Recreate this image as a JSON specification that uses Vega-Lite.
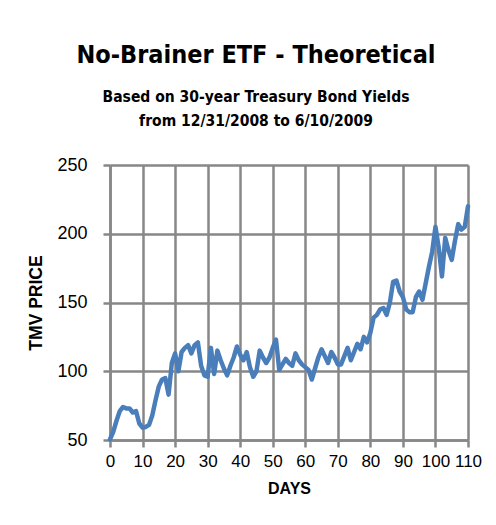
{
  "$schema": "https://vega.github.io/schema/vega-lite/v6.json",
  "width": 358,
  "height": 275,
  "autosize": {"type": "none"},
  "padding": {"left": 110, "top": 165, "right": 28, "bottom": 85},
  "background": "white",
  "title": {
    "text": "No-Brainer ETF - Theoretical",
    "subtitle": ["Based on 30-year Treasury Bond Yields", "from 12/31/2008 to 6/10/2009"],
    "anchor": "middle",
    "dx": -33,
    "offset": 27,
    "font": "DejaVu Sans Condensed, Liberation Sans, sans-serif",
    "fontSize": 25,
    "fontWeight": "bold",
    "color": "black",
    "subtitleFont": "DejaVu Sans Condensed, Liberation Sans, sans-serif",
    "subtitleFontSize": 15.5,
    "subtitleFontWeight": "bold",
    "subtitleColor": "black",
    "subtitlePadding": 22,
    "subtitleLineHeight": 24
  },
  "data": {
    "values": [
      {"day": 0, "price": 50.5}, {"day": 1, "price": 56}, {"day": 2, "price": 64}, {"day": 3, "price": 71},
      {"day": 4, "price": 74}, {"day": 5, "price": 73}, {"day": 6, "price": 73}, {"day": 7, "price": 70},
      {"day": 8, "price": 71}, {"day": 9, "price": 62}, {"day": 10, "price": 59}, {"day": 11, "price": 59.5},
      {"day": 12, "price": 61}, {"day": 13, "price": 68}, {"day": 14, "price": 79}, {"day": 15, "price": 89},
      {"day": 16, "price": 94}, {"day": 17, "price": 95}, {"day": 18, "price": 83}, {"day": 19, "price": 106},
      {"day": 20, "price": 113}, {"day": 21, "price": 100}, {"day": 22, "price": 114}, {"day": 23, "price": 117},
      {"day": 24, "price": 119}, {"day": 25, "price": 113}, {"day": 26, "price": 119}, {"day": 27, "price": 121},
      {"day": 28, "price": 104}, {"day": 29, "price": 97}, {"day": 30, "price": 96}, {"day": 31, "price": 117},
      {"day": 32, "price": 98}, {"day": 33, "price": 115}, {"day": 34, "price": 108}, {"day": 35, "price": 102},
      {"day": 36, "price": 97}, {"day": 37, "price": 104}, {"day": 38, "price": 110}, {"day": 39, "price": 118},
      {"day": 40, "price": 112}, {"day": 41, "price": 108}, {"day": 42, "price": 114}, {"day": 43, "price": 103},
      {"day": 44, "price": 96}, {"day": 45, "price": 100}, {"day": 46, "price": 115}, {"day": 47, "price": 110},
      {"day": 48, "price": 106}, {"day": 49, "price": 110}, {"day": 50, "price": 117}, {"day": 51, "price": 123},
      {"day": 52, "price": 101}, {"day": 53, "price": 105}, {"day": 54, "price": 109}, {"day": 55, "price": 106},
      {"day": 56, "price": 104}, {"day": 57, "price": 113}, {"day": 58, "price": 108}, {"day": 59, "price": 105},
      {"day": 60, "price": 103}, {"day": 61, "price": 101}, {"day": 62, "price": 94}, {"day": 63, "price": 102},
      {"day": 64, "price": 110}, {"day": 65, "price": 116}, {"day": 66, "price": 111}, {"day": 67, "price": 106},
      {"day": 68, "price": 114}, {"day": 69, "price": 110}, {"day": 70, "price": 105}, {"day": 71, "price": 105},
      {"day": 72, "price": 111}, {"day": 73, "price": 117}, {"day": 74, "price": 108}, {"day": 75, "price": 114},
      {"day": 76, "price": 120}, {"day": 77, "price": 116}, {"day": 78, "price": 125}, {"day": 79, "price": 121},
      {"day": 80, "price": 128}, {"day": 81, "price": 139}, {"day": 82, "price": 141}, {"day": 83, "price": 145},
      {"day": 84, "price": 146}, {"day": 85, "price": 141}, {"day": 86, "price": 150}, {"day": 87, "price": 165},
      {"day": 88, "price": 166}, {"day": 89, "price": 158}, {"day": 90, "price": 154}, {"day": 91, "price": 145},
      {"day": 92, "price": 143}, {"day": 93, "price": 143}, {"day": 94, "price": 154}, {"day": 95, "price": 158},
      {"day": 96, "price": 152}, {"day": 97, "price": 164}, {"day": 98, "price": 176}, {"day": 99, "price": 187},
      {"day": 100, "price": 205}, {"day": 101, "price": 190}, {"day": 102, "price": 169}, {"day": 103, "price": 197},
      {"day": 104, "price": 188}, {"day": 105, "price": 181}, {"day": 106, "price": 195}, {"day": 107, "price": 207},
      {"day": 108, "price": 203}, {"day": 109, "price": 205}, {"day": 110, "price": 220}
    ]
  },
  "mark": {"type": "line", "color": "#4a7ebb", "strokeWidth": 4.5, "strokeJoin": "round", "strokeCap": "round"},
  "encoding": {
    "x": {
      "field": "day",
      "type": "quantitative",
      "scale": {"domain": [0, 110], "nice": false, "zero": false},
      "axis": {
        "title": "DAYS",
        "values": [0, 10, 20, 30, 40, 50, 60, 70, 80, 90, 100, 110],
        "labelFlush": false,
        "labelFontSize": 17,
        "labelPadding": 6,
        "titlePadding": 11
      }
    },
    "y": {
      "field": "price",
      "type": "quantitative",
      "scale": {"domain": [50, 250], "nice": false, "zero": false},
      "axis": {
        "title": "TMV PRICE",
        "titleFontSize": 17.5,
        "values": [50, 100, 150, 200, 250],
        "labelFlush": false,
        "labelFontSize": 18,
        "labelPadding": 16,
        "titlePadding": 11
      }
    }
  },
  "config": {
    "view": {"stroke": null},
    "axis": {
      "grid": true,
      "gridColor": "#878787",
      "gridWidth": 2.5,
      "gridOpacity": 1,
      "domainColor": "#878787",
      "domainWidth": 2.5,
      "tickColor": "#878787",
      "tickWidth": 2.5,
      "tickSize": 7,
      "labelFont": "Liberation Sans",
      "labelFontSize": 17,
      "labelColor": "black",
      "titleFont": "Liberation Sans",
      "titleFontSize": 16,
      "titleFontWeight": "bold",
      "titleColor": "black"
    }
  }
}
